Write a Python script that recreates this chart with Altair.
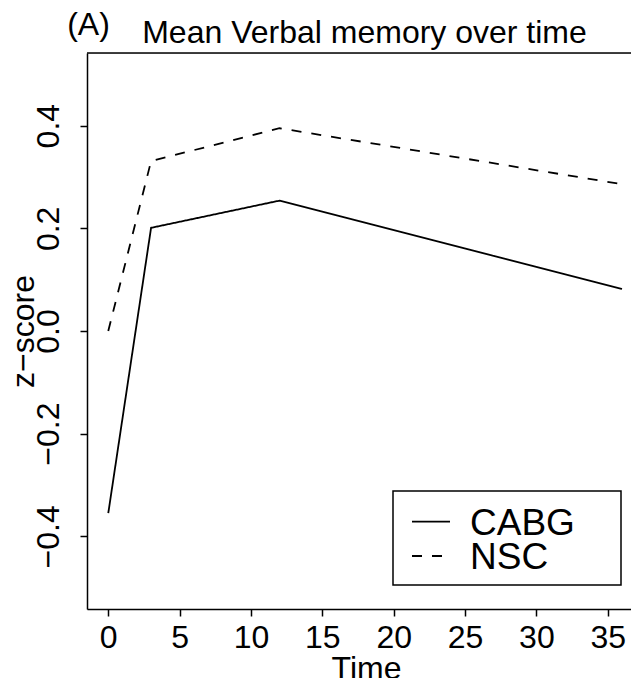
import altair as alt
import pandas as pd

# Data
time_points = [0, 3, 12, 36]
cabg = [-0.355, 0.201, 0.254, 0.082]
nsc = [0.0, 0.331, 0.395, 0.286]
series_names = ["CABG", "NSC"]
x_ticks = [0, 5, 10, 15, 20, 25, 30, 35]
y_ticks = [-0.4, -0.2, 0.0, 0.2, 0.4]
title_text = "Mean Verbal memory over time"
panel_text = "(A)"

rows = []
for name, vals in zip(series_names, [cabg, nsc]):
    for t, v in zip(time_points, vals):
        rows.append({"Time": t, "z": v, "group": name})
df = pd.DataFrame(rows)
one = pd.DataFrame({"k": [0]})

W, H = 544, 556
FONT = "Liberation Sans"
dash_range = [[1, 0], [10, 10]]

x_scale = alt.Scale(domain=[-1.49, 36.63], nice=False, zero=False)
y_scale = alt.Scale(domain=[-0.5416, 0.5416], nice=False, zero=False)

lines = alt.Chart(df).mark_line(color="black", strokeWidth=1.8).encode(
    x=alt.X("Time:Q", scale=x_scale,
            axis=alt.Axis(values=x_ticks, title="Time", grid=False,
                          labelFontSize=32, labelFont=FONT, labelColor="black",
                          labelBaseline="alphabetic", labelPadding=31,
                          labelOverlap=False, labelFlush=False, labelBound=False,
                          tickSize=7, tickWidth=1.5, tickColor="black",
                          domainWidth=1.5, domainColor="black",
                          titleFontSize=32, titleFont=FONT, titleFontWeight="normal",
                          titleColor="black", titleBaseline="alphabetic",
                          titleAlign="center", titleX=279, titleY=69)),
    y=alt.Y("z:Q", scale=y_scale,
            axis=alt.Axis(values=y_ticks, format=".1f", title="z−score", grid=False,
                          labelFontSize=32, labelFont=FONT, labelColor="black",
                          labelAngle=270, labelAlign="center",
                          labelBaseline="alphabetic", labelPadding=22,
                          labelOverlap=False, labelFlush=False, labelBound=False,
                          tickSize=7, tickWidth=1.5, tickColor="black",
                          domainWidth=1.5, domainColor="black",
                          titleFontSize=32, titleFont=FONT, titleFontWeight="normal",
                          titleColor="black", titleAngle=270, titleAlign="center",
                          titleBaseline="alphabetic", titleX=-54, titleY=278)),
    strokeDash=alt.StrokeDash("group:N",
                              scale=alt.Scale(domain=series_names, range=dash_range),
                              legend=None),
    detail="group:N",
)

# top border of the plot box (right side is clipped in the reference)
top_border = alt.Chart(one).mark_rule(color="black", strokeWidth=1.5).encode(
    x=alt.value(0), x2=alt.value(W), y=alt.value(0)
)

panel_label = alt.Chart(one).mark_text(
    text=panel_text, font=FONT, fontSize=32, color="black",
    align="center", baseline="alphabetic"
).encode(x=alt.value(1.5), y=alt.value(-18))

main_title = alt.Chart(one).mark_text(
    text=title_text, font=FONT, fontSize=32, color="black",
    align="center", baseline="alphabetic"
).encode(x=alt.value(277.5), y=alt.value(-10.5))

# legend box
legend_box = alt.Chart(one).mark_rect(
    fill="white", stroke="black", strokeWidth=1.5
).encode(x=alt.value(306), x2=alt.value(534), y=alt.value(438), y2=alt.value(532))

legend_layers = []
for i, name in enumerate(series_names):
    ly = 468.7 + i * 34.3
    legend_layers.append(
        alt.Chart(one).mark_rule(color="black", strokeWidth=1.8,
                                 strokeDash=dash_range[i]).encode(
            x=alt.value(325), x2=alt.value(363), y=alt.value(ly)
        )
    )
    legend_layers.append(
        alt.Chart(one).mark_text(
            text=name, font=FONT, fontSize=37, color="black",
            align="left", baseline="alphabetic"
        ).encode(x=alt.value(383), y=alt.value(ly + 13.3))
    )

chart = alt.layer(lines, top_border, panel_label, main_title, legend_box,
                  *legend_layers).properties(
    width=W, height=H,
    autosize=alt.AutoSizeParams(type="none"),
    padding={"left": 79, "top": 45, "right": 0, "bottom": 69},
).configure_view(stroke=None).configure(background="white")

chart.save("out.html", embed_options={"renderer": "svg", "actions": False})
